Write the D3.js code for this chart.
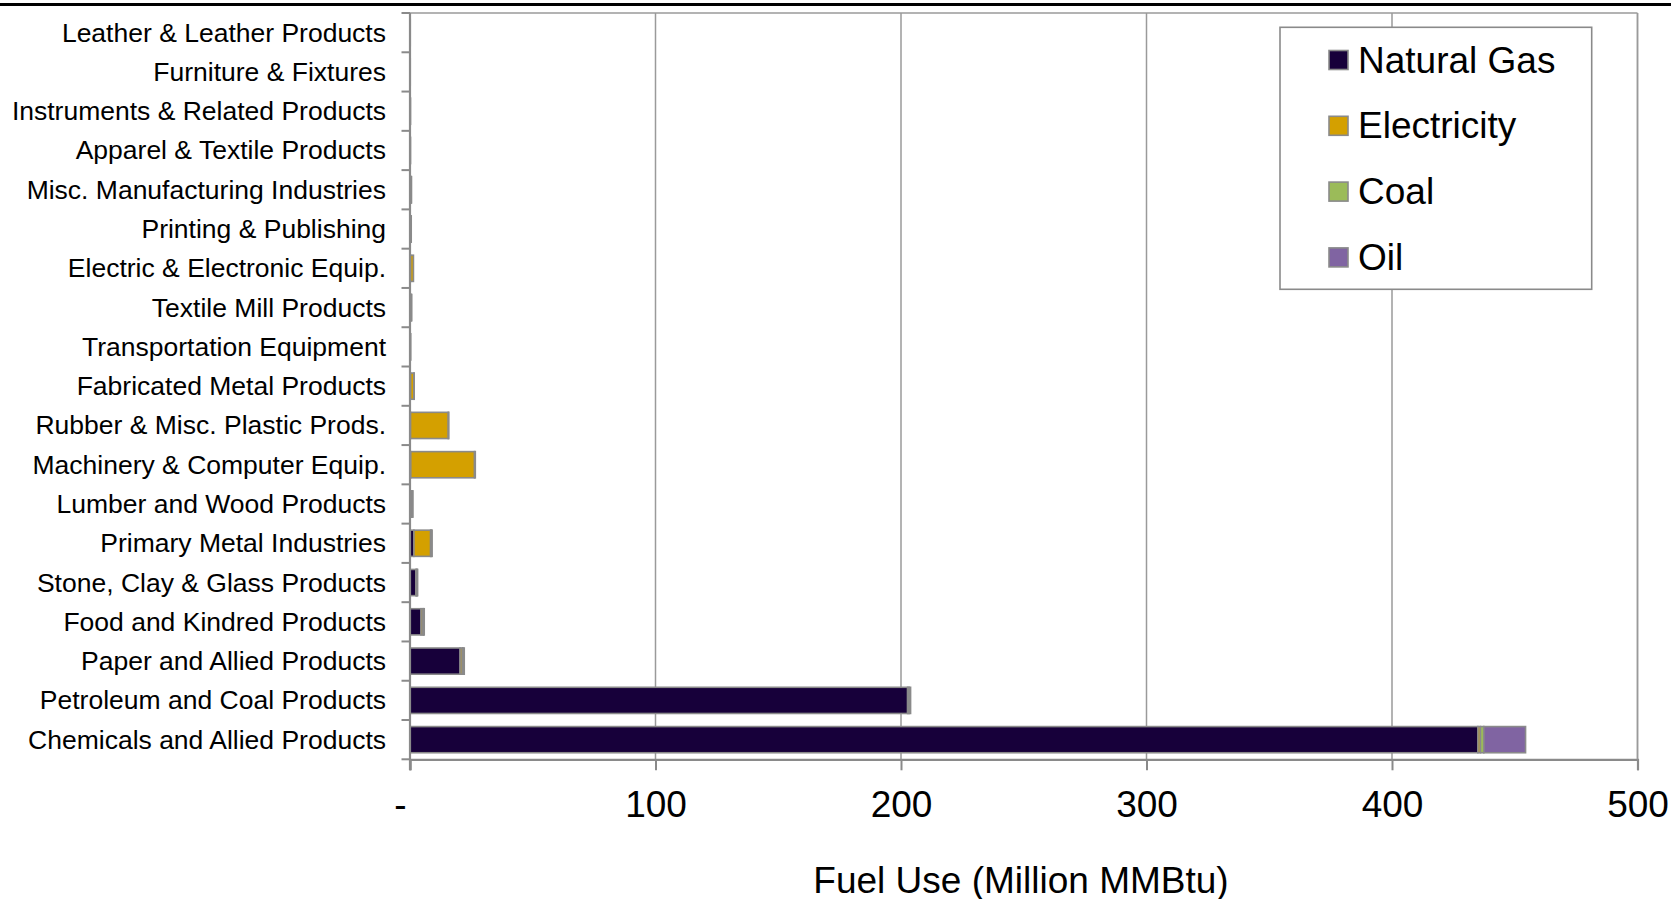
<!DOCTYPE html>
<html>
<head>
<meta charset="utf-8">
<script src="https://cdn.jsdelivr.net/npm/d3@7"></script>
<style>
  html, body { margin: 0; padding: 0; background: #fff; }
  svg { display: block; font-family: "Liberation Sans", Arial, sans-serif; }
</style>
</head>
<body>
<svg id="chart" width="1671" height="899"></svg>
<script>
const categories = [
  "Leather & Leather Products",
  "Furniture & Fixtures",
  "Instruments & Related Products",
  "Apparel & Textile Products",
  "Misc. Manufacturing Industries",
  "Printing & Publishing",
  "Electric & Electronic Equip.",
  "Textile Mill Products",
  "Transportation Equipment",
  "Fabricated Metal Products",
  "Rubber & Misc. Plastic Prods.",
  "Machinery & Computer Equip.",
  "Lumber and Wood Products",
  "Primary Metal Industries",
  "Stone, Clay & Glass Products",
  "Food and Kindred Products",
  "Paper and Allied Products",
  "Petroleum and Coal Products",
  "Chemicals and Allied Products"
];
const seriesNames = ["Natural Gas", "Electricity", "Coal", "Oil"];
const naturalGas  = [0.05, 0.05, 0.1, 0.1, 0.3, 0.2, 0.2, 0.3, 0.1, 0.2, 0.2, 0.3, 0.6, 1.6, 2.4, 4.5, 20.4, 202.7, 435.0];
const electricity = [0.05, 0.05, 0.1, 0.1, 0.2, 0.2, 1.2, 0.2, 0.2, 1.4, 15.4, 26.0, 0.2, 6.8, 0.3, 0.8, 0.9, 0.6, 1.0];
const coal        = [0, 0, 0, 0, 0, 0, 0, 0, 0, 0, 0, 0, 0, 0.3, 0.2, 0.2, 0.3, 0, 1.4];
const oil         = [0, 0, 0, 0, 0.1, 0.1, 0, 0.2, 0, 0.1, 0.2, 0.3, 0.4, 0.3, 0.2, 0.3, 0.5, 0.6, 17.0];
const xTicks = [0, 100, 200, 300, 400, 500];
const xTickLabels = ["-", "100", "200", "300", "400", "500"];
const colors = ["#17003a", "#d4a000", "#9bbb59", "#8064a2"];
const axisTitle = "Fuel Use (Million MMBtu)";

const svg = d3.select("#chart");
const pLeft = 410, pRight = 1637.5, pTop = 13, pBottom = 759.3;

const x = d3.scaleLinear().domain([0, 500]).range([pLeft, pRight]);
const y = d3.scaleBand().domain(categories).range([pTop, pBottom])
  .paddingInner(1/3).paddingOuter(1/6);

// top black border line
svg.append("line").attr("x1", 0).attr("x2", 1671).attr("y1", 4.5).attr("y2", 4.5)
  .attr("stroke", "#000").attr("stroke-width", 3);

// gridlines
svg.append("g").selectAll("line").data(xTicks.slice(1)).join("line")
  .attr("x1", d => x(d)).attr("x2", d => x(d))
  .attr("y1", pTop).attr("y2", pBottom)
  .attr("stroke", "#9a9a9a").attr("stroke-width", 1.5);

// plot frame top
svg.append("line").attr("x1", pLeft).attr("x2", pRight).attr("y1", pTop).attr("y2", pTop)
  .attr("stroke", "#9a9a9a").attr("stroke-width", 1.5);

// stacked data
const rows = categories.map((c, i) => ({ cat: c, "Natural Gas": naturalGas[i], "Electricity": electricity[i], "Coal": coal[i], "Oil": oil[i] }));
const stack = d3.stack().keys(seriesNames)(rows);

const gBars = svg.append("g");
stack.forEach((layer, k) => {
  gBars.append("g").selectAll("rect").data(layer.filter(d => d[1] - d[0] > 0)).join("rect")
    .attr("x", d => x(d[0]))
    .attr("y", d => y(d.data.cat))
    .attr("width", d => x(d[1]) - x(d[0]))
    .attr("height", y.bandwidth())
    .attr("fill", colors[k])
    .attr("stroke", "#8a8a8a")
    .attr("stroke-width", 1.6);
});

// x axis
const xAxis = d3.axisBottom(x).tickValues(xTicks).tickSize(11)
  .tickFormat((d, i) => xTickLabels[i]);
const gx = svg.append("g").attr("transform", `translate(0,${pBottom})`).call(xAxis);
gx.select(".domain").attr("stroke", "#8a8a8a").attr("stroke-width", 2.2);
gx.selectAll(".tick line").attr("stroke", "#8a8a8a").attr("stroke-width", 2);
gx.selectAll(".tick text").attr("font-size", 37).attr("fill", "#000")
  .attr("font-family", "Liberation Sans, Arial, sans-serif")
  .attr("y", 0).attr("dy", 0)
  .attr("dominant-baseline", "central")
  .attr("transform", "translate(0,45.5)");
gx.selectAll(".tick text").filter(d => d === 0).attr("x", -10);

// right edge of frame
svg.append("line").attr("x1", pRight).attr("x2", pRight).attr("y1", pTop).attr("y2", pBottom)
  .attr("stroke", "#9a9a9a").attr("stroke-width", 1.5);

const gy = svg.append("g").attr("transform", `translate(${pLeft},0)`);
gy.append("line").attr("x1", 0).attr("x2", 0).attr("y1", pTop).attr("y2", pBottom + 11)
  .attr("stroke", "#8a8a8a").attr("stroke-width", 2.2);
// category boundary ticks
const boundaries = categories.map(c => y(c) - y.step() * y.paddingInner() / 2).concat([pBottom]);
gy.selectAll("line.tk").data(boundaries).join("line").attr("class", "tk")
  .attr("x1", -8.5).attr("x2", 0).attr("y1", d => d).attr("y2", d => d)
  .attr("stroke", "#8a8a8a").attr("stroke-width", 2);
gy.selectAll("text").data(categories).join("text")
  .attr("x", -24).attr("y", d => y(d) + y.bandwidth() / 2)
  .attr("text-anchor", "end").attr("dominant-baseline", "central")
  .attr("font-size", 26.5).attr("fill", "#000")
  .text(d => d);

// axis title
svg.append("text").attr("x", 1021).attr("y", 880)
  .attr("text-anchor", "middle").attr("dominant-baseline", "central")
  .attr("font-size", 37).attr("fill", "#000").text(axisTitle);

// legend
const lg = svg.append("g");
lg.append("rect").attr("x", 1280).attr("y", 27.3).attr("width", 311.7).attr("height", 262)
  .attr("fill", "#fff").attr("stroke", "#8a8a8a").attr("stroke-width", 1.6);
const items = lg.selectAll("g.item").data(seriesNames).join("g").attr("class", "item")
  .attr("transform", (d, i) => `translate(1329,${60 + i * 65.8})`);
items.append("rect").attr("x", 0).attr("y", -9.5).attr("width", 19).attr("height", 19)
  .attr("fill", (d, i) => colors[i]).attr("stroke", "#8a8a8a").attr("stroke-width", 1.6);
items.append("text").attr("x", 29).attr("y", 0).attr("dominant-baseline", "central")
  .attr("font-size", 37).attr("fill", "#000").text(d => d);
</script>
</body>
</html>
